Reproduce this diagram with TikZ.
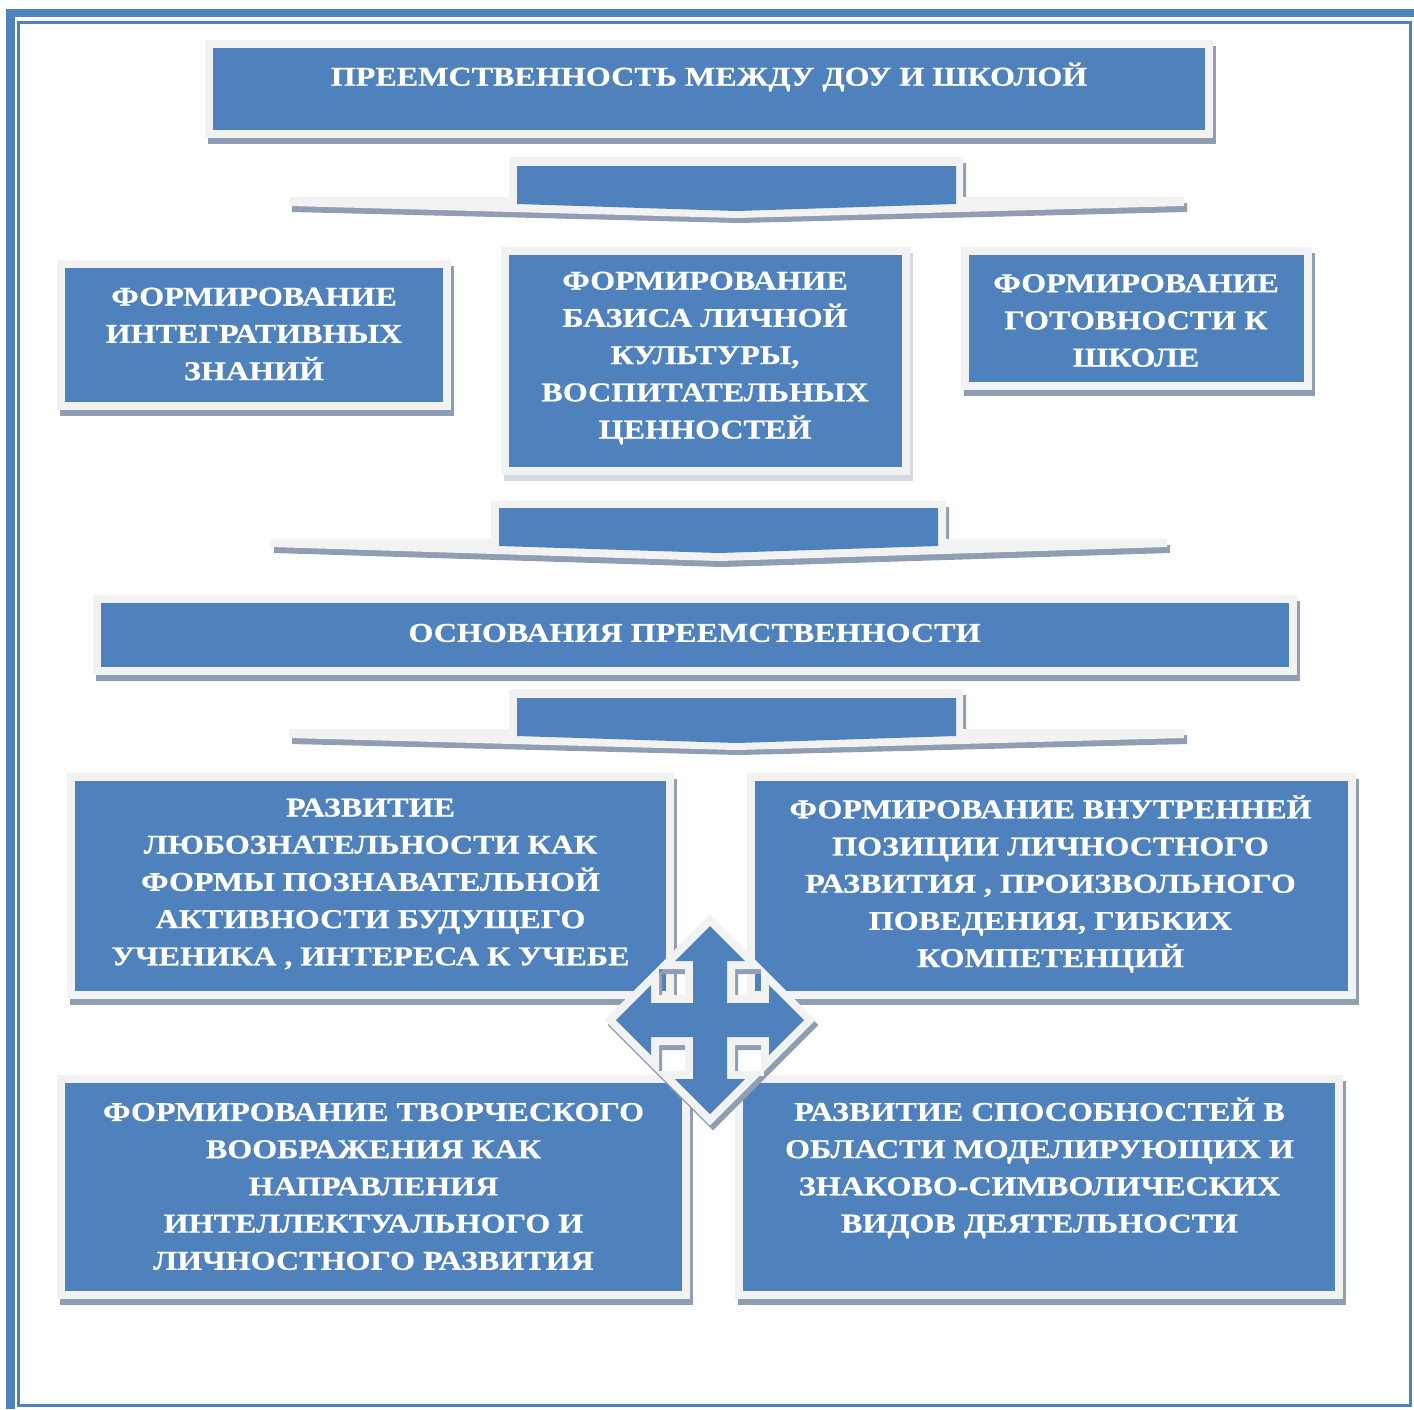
\documentclass[tikz,border=0pt]{standalone}
\usepackage{fontspec}
\newfontfamily\boxfont{Liberation Serif}[FakeStretch=1.18, FakeBold=0.6]
\definecolor{boxblue}{HTML}{4F81BD}
\definecolor{framecol}{HTML}{F2F2F2}
\definecolor{shadowcol}{HTML}{909EB3}
\definecolor{lightshadow}{HTML}{D5DAE2}
\definecolor{linecol}{HTML}{4F81BD}
\tikzset{
  txt/.style={text=white, font=\boxfont\bfseries\fontsize{27.2}{37.2}\selectfont, align=center, inner sep=0pt},
}
\newcommand\blockbox[5][shadowcol]{%
  \fill[#1] ({#2-5},{#3-2}) rectangle ({#4+11},{#5+14});
  \fill[framecol] ({#2-8},{#3-8}) rectangle ({#4+8},{#5+8});
  \fill[boxblue] (#2,#3) rectangle (#4,#5);
}
\begin{document}
\begin{tikzpicture}[x=1pt,y=-1pt]
\useasboundingbox (0,0) rectangle (1414,1409);
\fill[white] (0,0) rectangle (1414,1409);
% page frame
\fill[linecol] (6,9) rectangle (1414,17);
\fill[linecol] (6,9) rectangle (15,1409);
\draw[linecol, line width=3] (18.5,22) rectangle (1410.5,1405.5);

% boxes
\blockbox{213}{48}{1205}{130}
\blockbox{65}{268}{443}{402}
\blockbox[lightshadow]{509}{255}{902}{467}
\blockbox{969}{255}{1304}{382}
\blockbox{101}{603}{1289}{667}
\blockbox{75}{781}{666}{991}
\blockbox{755}{781}{1348}{991}
\blockbox{65}{1083}{682}{1291}
\blockbox{743}{1083}{1335}{1291}

% chevrons 1 and 3
\foreach \dy in {0,532}{
  \begin{scope}[yshift={-\dy pt}]
    \fill[shadowcol] (512,163) -- (966,163) -- (966,203) -- (1187,203) -- (1187,212) -- (739.5,223) -- (292,212) -- (292,203) -- (512,203) -- cycle;
    \fill[framecol] (509,157) -- (963,157) -- (963,197) -- (1184,197) -- (1184,206) -- (736.5,218) -- (289,206) -- (289,197) -- (509,197) -- cycle;
    \fill[boxblue] (517,166) -- (956,166) -- (956,204) -- (736.5,211) -- (517,204) -- cycle;
  \end{scope}
}
% chevron 2
\fill[shadowcol] (494,507) -- (949,507) -- (949,545) -- (1170,545) -- (1170,553) -- (722,567) -- (274,553) -- (274,545) -- (494,545) -- cycle;
\fill[framecol] (491,501) -- (946,501) -- (946,539) -- (1167,539) -- (1167,547) -- (719,561) -- (271,547) -- (271,539) -- (491,539) -- cycle;
\fill[boxblue] (499,508) -- (938,508) -- (938,546) -- (719,553) -- (499,546) -- cycle;

% texts
\node[txt] (t0) at (709,77) {ПРЕЕМСТВЕННОСТЬ МЕЖДУ ДОУ И ШКОЛОЙ};
\node[txt] (t1) at (254,334) {ФОРМИРОВАНИЕ\\ИНТЕГРАТИВНЫХ\\ЗНАНИЙ};
\node[txt] (t2) at (705,358) {ФОРМИРОВАНИЕ\\БАЗИСА ЛИЧНОЙ\\КУЛЬТУРЫ,\\ВОСПИТАТЕЛЬНЫХ\\ЦЕННОСТЕЙ};
\node[txt] (t3) at (1136,320.5) {ФОРМИРОВАНИЕ\\ГОТОВНОСТИ К\\ШКОЛЕ};
\node[txt] (t4) at (694.5,633) {ОСНОВАНИЯ ПРЕЕМСТВЕННОСТИ};
\node[txt] (t5) at (370.5,884) {РАЗВИТИЕ\\ЛЮБОЗНАТЕЛЬНОСТИ КАК\\ФОРМЫ ПОЗНАВАТЕЛЬНОЙ\\АКТИВНОСТИ БУДУЩЕГО\\УЧЕНИКА , ИНТЕРЕСА К УЧЕБЕ};
\node[txt] (t6) at (1050.5,884) {ФОРМИРОВАНИЕ ВНУТРЕННЕЙ\\ПОЗИЦИИ ЛИЧНОСТНОГО\\РАЗВИТИЯ , ПРОИЗВОЛЬНОГО\\ПОВЕДЕНИЯ, ГИБКИХ\\КОМПЕТЕНЦИЙ};
\node[txt] (t7) at (373.5,1186.5) {ФОРМИРОВАНИЕ ТВОРЧЕСКОГО\\ВООБРАЖЕНИЯ КАК\\НАПРАВЛЕНИЯ\\ИНТЕЛЛЕКТУАЛЬНОГО И\\ЛИЧНОСТНОГО РАЗВИТИЯ};
\node[txt] (t8) at (1039.5,1168) {РАЗВИТИЕ СПОСОБНОСТЕЙ В\\ОБЛАСТИ МОДЕЛИРУЮЩИХ И\\ЗНАКОВО-СИМВОЛИЧЕСКИХ\\ВИДОВ ДЕЯТЕЛЬНОСТИ};

% quad arrow
\def\crosspath{(0,-94) -- (35,-59) -- (17,-59) -- (17,-17) -- (59,-17) -- (59,-35) -- (94,0) -- (59,35) -- (59,17) -- (17,17) -- (17,59) -- (35,59) -- (0,94) -- (-35,59) -- (-17,59) -- (-17,17) -- (-59,17) -- (-59,35) -- (-94,0) -- (-59,-35) -- (-59,-17) -- (-17,-17) -- (-17,-59) -- (-35,-59) -- cycle}
\begin{scope}[shift={(713,1025)}]
  \filldraw[shadowcol, line width=16, line join=miter] \crosspath;
\end{scope}
\begin{scope}[shift={(710,1020)}]
  \filldraw[framecol, line width=16, line join=miter] \crosspath;
  \fill[boxblue] \crosspath;
\end{scope}
\end{tikzpicture}
\end{document}
